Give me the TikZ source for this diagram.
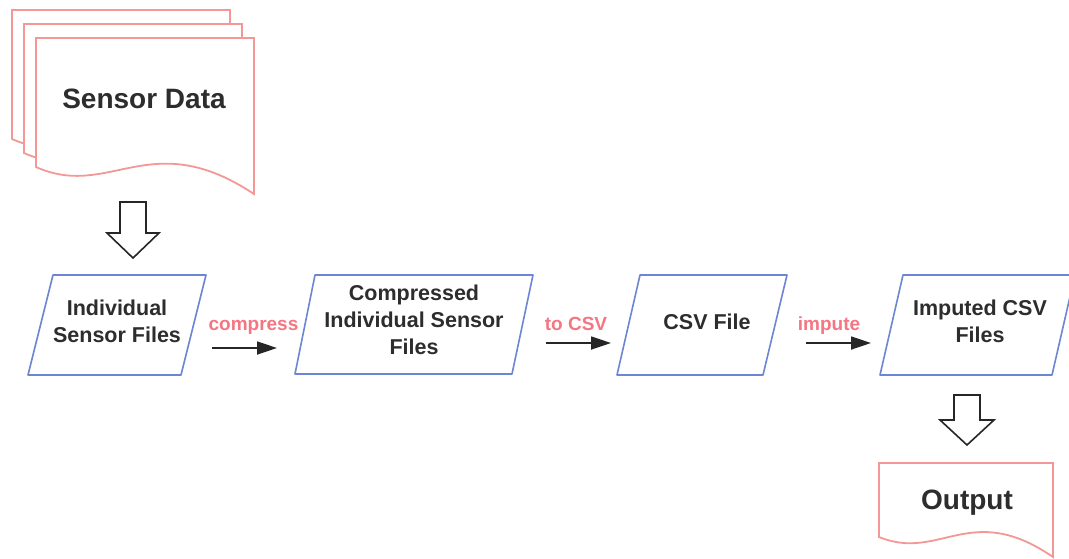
\documentclass[tikz,border=0pt]{standalone}
\usepackage{fontspec}
\setmainfont{Liberation Sans}
\usetikzlibrary{arrows.meta}
\begin{document}
\begin{tikzpicture}[x=1pt,y=-1pt,
  boxline/.style={draw=boxblue,line width=1.6pt,line join=round,fill=white},
  docline/.style={draw=docpink,line width=1.8pt,line join=miter,fill=white},
  hollow/.style={draw=black!85,line width=1.6pt,fill=white,line join=miter},
  flow/.style={draw=black!85,line width=1.8pt,-{Triangle[length=20pt,width=13pt]}},
  boxtext/.style={font=\fontsize{21.5}{27}\selectfont\bfseries,text=txtgray,align=center,inner sep=0pt},
  lbl/.style={font=\fontsize{19}{22}\selectfont\bfseries,text=lblpink,anchor=base,inner sep=0pt},
  bigtext/.style={font=\fontsize{28}{32}\selectfont\bfseries,text=txtgray,anchor=base,inner sep=0pt}
]
\definecolor{boxblue}{RGB}{108,134,212}
\definecolor{docpink}{RGB}{244,152,150}
\definecolor{lblpink}{RGB}{244,118,130}
\definecolor{txtgray}{RGB}{45,45,45}
\useasboundingbox (0,0) rectangle (1069,558);
\fill[white] (0,0) rectangle (1069,558);

% Sensor Data stacked documents
\foreach \dx/\dy in {-24/-28,-12/-14,0/0}{
  \begin{scope}[shift={(36+\dx,38+\dy)}]
    \path[docline] (0,0) -- (218,0) -- (218,156)
      .. controls (114,87) and (74,162) .. (0,129) -- cycle;
  \end{scope}
}
\node[bigtext] (sensor) at (144,108.5) {Sensor Data};

% hollow arrow 1
\path[hollow] (120,202) -- (146,202) -- (146,233) -- (159,233) -- (133,258)
  -- (107,233) -- (120,233) -- cycle;

% boxes
\path[boxline] (53,275) -- (206,275) -- (181,375) -- (28,375) -- cycle;
\node[boxtext] (b1) at (117,321) {Individual\\Sensor Files};

\path[boxline] (315,275) -- (533,275) -- (512,374) -- (295,374) -- cycle;
\node[boxtext] (b2) at (414,319.5) {Compressed\\Individual Sensor\\Files};

\path[boxline] (640,275) -- (787,275) -- (763,375) -- (617,375) -- cycle;
\node[boxtext] (b3) at (707,321.5) {CSV File};

\path[boxline] (903,275) -- (1075,275) -- (1052,375) -- (880,375) -- cycle;
\node[boxtext] (b4) at (980,321) {Imputed CSV\\Files};

% flow arrows and labels
\coordinate (a1s) at (212,348); \coordinate (a1e) at (277,348);
\coordinate (a2s) at (546,343); \coordinate (a2e) at (611,343);
\coordinate (a3s) at (806,343); \coordinate (a3e) at (871,343);
\draw[flow] (a1s) -- (a1e);
\draw[flow] (a2s) -- (a2e);
\draw[flow] (a3s) -- (a3e);
\node[lbl] (l1) at (253.5,330) {compress};
\node[lbl] (l2) at (576,330.5) {to CSV};
\node[lbl] (l3) at (829,330) {impute};

% hollow arrow 2
\path[hollow] (954,395) -- (980,395) -- (980,420) -- (994,420) -- (967,445)
  -- (940,420) -- (954,420) -- cycle;

% Output document
\path[docline] (879,463) -- (1053,463) -- (1053,557)
  .. controls (970,500) and (940,562) .. (879,537) -- cycle;
\node[bigtext] (out) at (967,509) {Output};
\end{tikzpicture}
\end{document}
